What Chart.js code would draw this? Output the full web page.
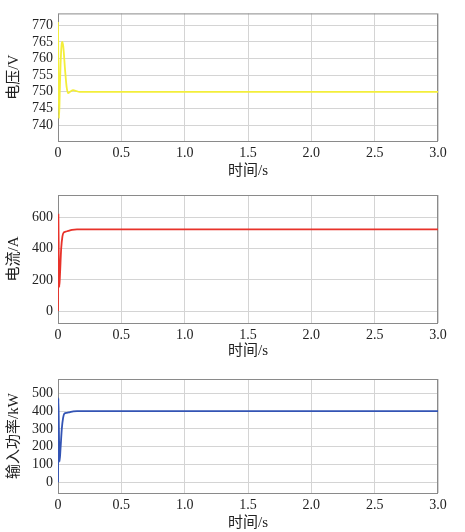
<!DOCTYPE html>
<html>
<head>
<meta charset="utf-8">
<script src="https://cdn.jsdelivr.net/npm/chart.js@4"></script>
<style>
  html, body { margin: 0; padding: 0; background: #fff; }
  .panel { position: absolute; left: 0; width: 465px; }
</style>
</head>
<body>
<div class="panel" style="top:0;height:180px"><canvas id="c1"></canvas></div>
<div class="panel" style="top:180px;height:180px"><canvas id="c2"></canvas></div>
<div class="panel" style="top:360px;height:172px"><canvas id="c3"></canvas></div>
<script>
// 时间轴刻度
const xTicks = [0, 0.5, 1.0, 1.5, 2.0, 2.5, 3.0];

// 电压
const tVolt = [0, 0.008, 0.014, 0.02, 0.028, 0.034, 0.042, 0.055, 0.068, 0.08, 0.095, 0.12, 0.14, 0.17, 0.2, 0.5, 1.0, 1.5, 2.0, 2.5, 3.0];
const volt  = [771, 742, 750, 758, 764, 765, 763.5, 757, 751.5, 749.6, 750, 750.5, 750.3, 750, 750, 750, 750, 750, 750, 750, 750];

// 电流
const tCurr = [0, 0.003, 0.006, 0.01, 0.016, 0.025, 0.035, 0.045, 0.06, 0.08, 0.11, 0.15, 0.2, 0.5, 1.0, 1.5, 2.0, 2.5, 3.0];
const curr  = [0, 620, 350, 155, 240, 400, 480, 505, 510, 515, 522, 525, 525, 525, 525, 525, 525, 525, 525];

// 输入功率
const tPow = [0, 0.003, 0.007, 0.012, 0.02, 0.03, 0.04, 0.05, 0.07, 0.09, 0.12, 0.15, 0.2, 0.5, 1.0, 1.5, 2.0, 2.5, 3.0];
const pow  = [0, 472, 300, 116, 190, 300, 360, 385, 390, 393, 398, 400, 400, 400, 400, 400, 400, 400, 400];

const tickFont = { family: "'Liberation Serif', 'Times New Roman', serif", size: 14 };
const titleFont = { family: "'Liberation Serif', 'Noto Sans CJK SC', serif", size: 15 };

// 坐标框，画在曲线下面
const frame = {
  id: 'frame',
  beforeDatasetsDraw(chart) {
    const a = chart.chartArea, c = chart.ctx;
    c.save();
    c.strokeStyle = '#8a8a8a';
    c.lineWidth = 1;
    c.strokeRect(a.left + 0.5, a.top + 0.5, a.right - a.left - 1, a.bottom - a.top);
    c.restore();
  }
};

function makeChart(id, t, v, color, yMin, yMax, yStep, yLabel, top, xAxisH) {
  const pts = t.map((x, i) => ({ x: x, y: v[i] }));
  return new Chart(document.getElementById(id), {
    type: 'line',
    data: { datasets: [{ data: pts, borderColor: color, borderWidth: 1.8, pointRadius: 0, cubicInterpolationMode: 'monotone', fill: false }] },
    options: {
      responsive: true,
      maintainAspectRatio: false,
      animation: false,
      layout: { padding: { top: top, right: 27, left: 0, bottom: 0 } },
      plugins: { legend: { display: false }, tooltip: { enabled: false } },
      scales: {
        x: {
          type: 'linear', min: 0, max: 3,
          afterBuildTicks: s => { s.ticks = xTicks.map(x => ({ value: x })); },
          afterFit: s => { s.height = xAxisH; },
          ticks: { font: tickFont, color: '#222', padding: 4, maxRotation: 0,
            callback: val => val === 0 ? '0' : val.toFixed(1) },
          grid: { color: '#d4d4d4', drawTicks: false },
          border: { display: false },
          title: { display: true, text: '时间/s', font: titleFont, color: '#222', padding: { top: 1, bottom: 0 } }
        },
        y: {
          min: yMin, max: yMax,
          afterBuildTicks: s => {
            const arr = [];
            for (let k = Math.ceil(yMin / yStep) * yStep; k <= yMax; k += yStep) arr.push({ value: k });
            s.ticks = arr;
          },
          afterFit: s => { s.width = 58; },
          ticks: { font: tickFont, color: '#222', padding: 5 },
          grid: { color: '#d4d4d4', drawTicks: false },
          border: { display: false },
          title: { display: true, text: yLabel, font: titleFont, color: '#222', padding: { top: 5, bottom: 0 } }
        }
      }
    },
    plugins: [frame]
  });
}

makeChart('c1', tVolt, volt, '#f3ee3a', 735.2, 773.6, 5, '电压/V', 13, 39);
makeChart('c2', tCurr, curr, '#e8322a', -77, 746, 200, '电流/A', 15, 37);
makeChart('c3', tPow, pow, '#3354b4', -60, 580, 100, '输入功率/kW', 19, 39);
</script>
</body>
</html>
